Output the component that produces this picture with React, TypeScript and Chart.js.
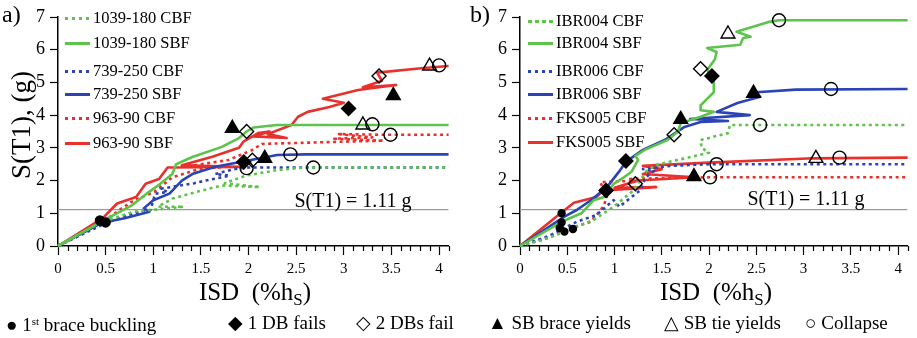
import React, { useEffect, useRef } from 'react';
import { Chart, registerables } from 'chart.js';
Chart.register(...registerables);

type P = [number, number];

const GREEN = '#5cc44a';
const BLUE = '#2b44b5';
const RED = '#e8302c';
const SERIF = '"Liberation Serif", "Times New Roman", serif';

// ---------- tick labels ----------
const X_TICKS = [0, 0.5, 1, 1.5, 2, 2.5, 3, 3.5, 4];
const X_TICK_LABELS = ['0', '0.5', '1', '1.5', '2', '2.5', '3', '3.5', '4'];
const Y_TICKS = [0, 1, 2, 3, 4, 5, 6, 7];
const Y_TICK_LABELS = ['0', '1', '2', '3', '4', '5', '6', '7'];
const S_T1_LINE: P[] = [[0, 1.11], [4.1, 1.11]];

// ---------- panel a series ----------
const A_1039_CBF: P[] = [[0, 0], [0.45, 0.72], [0.8, 1.05], [1.32, 1.2], [1.05, 1.2], [1.2, 1.45], [1.45, 1.65], [1.72, 1.85], [2.12, 1.8], [1.75, 1.92], [1.97, 2.15], [2.3, 2.32], [2.58, 2.4], [4.1, 2.4]];
const A_1039_SBF: P[] = [[0, 0], [0.49, 0.8], [0.78, 1.25], [0.93, 1.6], [1.06, 1.87], [1.2, 2.2], [1.24, 2.5], [1.41, 2.72], [1.72, 3.03], [1.9, 3.3], [1.98, 3.5], [2.05, 3.62], [2.3, 3.7], [4.1, 3.7]];
const A_739_CBF: P[] = [[0, 0], [0.5, 0.7], [0.8, 1.0], [0.97, 1.1], [1.02, 1.6], [1.15, 1.65], [1.08, 1.75], [1.43, 1.92], [1.55, 2.0], [1.8, 2.15], [1.65, 2.2], [1.85, 2.35], [2.0, 2.4], [4.1, 2.4]];
const A_739_SBF: P[] = [[0, 0], [0.47, 0.72], [0.7, 0.85], [0.96, 1.05], [0.9, 1.15], [1.0, 1.4], [1.17, 1.6], [1.3, 2.0], [1.41, 2.2], [1.65, 2.42], [1.97, 2.6], [2.3, 2.78], [2.6, 2.8], [4.1, 2.8]];
const A_963_CBF: P[] = [[0, 0], [0.5, 0.8], [0.67, 1.15], [0.8, 1.4], [1.01, 1.65], [1.2, 2.1], [1.48, 2.35], [1.7, 2.4], [1.4, 2.45], [1.79, 2.63], [2.03, 2.92], [2.14, 3.12], [2.5, 3.15], [3.42, 3.22], [2.9, 3.28], [3.3, 3.32], [2.95, 3.42], [3.4, 3.4], [4.1, 3.4]];
const A_963_SBF: P[] = [[0, 0], [0.47, 0.85], [0.62, 1.3], [0.82, 1.5], [0.92, 1.9], [1.06, 2.05], [1.15, 2.4], [1.9, 2.42], [1.3, 2.47], [1.62, 2.73], [1.9, 3.0], [1.95, 3.2], [2.1, 3.45], [2.22, 3.5], [2.05, 3.35], [2.4, 3.3], [2.2, 3.42], [2.45, 3.7], [2.52, 3.95], [2.62, 4.1], [2.85, 4.25], [3.0, 4.38], [2.78, 4.5], [3.15, 4.77], [3.55, 4.92], [3.2, 4.85], [3.4, 5.05], [3.35, 5.3], [3.84, 5.44], [4.1, 5.5]];

const A_BUCKLING: P[] = [[0.44, 0.78], [0.5, 0.72]];
const A_DB1: P[] = [[1.95, 2.57], [3.05, 4.2]];
const A_DB2: P[] = [[1.98, 3.5], [2.04, 2.62], [3.37, 5.2]];
const A_SB_BRACE: P[] = [[1.83, 3.6], [2.17, 2.68], [3.52, 4.6]];
const A_SB_TIE: P[] = [[3.2, 3.7], [3.9, 5.5]];
const A_COLLAPSE: P[] = [[1.98, 2.38], [2.44, 2.8], [2.68, 2.4], [3.3, 3.72], [3.49, 3.4], [4.0, 5.52]];

// ---------- panel b series ----------
const B_IBR004_CBF: P[] = [[0, 0], [0.23, 0.18], [0.44, 0.4], [0.78, 0.8], [0.99, 1.2], [1.2, 1.7], [1.34, 2.3], [1.44, 2.48], [2.0, 2.85], [1.92, 3.0], [1.91, 3.24], [2.2, 3.45], [2.22, 3.7], [4.1, 3.7]];
const B_IBR004_SBF: P[] = [[0, 0], [0.44, 0.74], [0.65, 1.0], [0.78, 1.4], [0.89, 1.5], [0.99, 1.9], [1.1, 2.1], [1.18, 2.27], [1.25, 2.63], [1.22, 2.75], [1.32, 2.94], [1.56, 3.24], [1.67, 3.49], [1.7, 3.75], [1.91, 3.95], [2.05, 4.1], [1.91, 4.15], [1.91, 4.3], [2.05, 4.7], [2.05, 5.08], [1.98, 5.38], [2.06, 5.7], [2.08, 5.93], [1.98, 6.05], [2.33, 6.15], [2.36, 6.36], [2.44, 6.4], [2.29, 6.55], [2.63, 6.85], [2.74, 6.9], [4.1, 6.9]];
const B_IBR006_CBF: P[] = [[0, 0], [0.3, 0.3], [0.6, 0.74], [0.81, 0.95], [0.99, 1.4], [1.05, 1.2], [1.27, 1.7], [1.33, 2.1], [1.42, 2.3], [1.3, 2.35], [1.6, 2.45], [2.0, 2.5], [4.1, 2.5]];
const B_IBR006_SBF: P[] = [[0, 0], [0.47, 0.9], [0.6, 1.1], [0.75, 1.4], [0.92, 1.8], [1.06, 2.32], [1.12, 2.57], [1.3, 2.94], [1.53, 3.24], [1.74, 3.64], [1.91, 3.79], [2.2, 3.82], [1.8, 3.88], [2.43, 4.0], [2.08, 4.1], [2.3, 4.37], [2.54, 4.56], [2.5, 4.7], [2.92, 4.78], [4.1, 4.8]];
const B_FKS005_CBF: P[] = [[0, 0], [0.3, 0.25], [0.57, 0.58], [0.75, 0.74], [0.88, 1.2], [0.92, 1.5], [0.85, 1.95], [1.25, 2.0], [1.15, 2.05], [1.6, 2.08], [2.0, 2.1], [4.1, 2.1]];
const B_FKS005_SBF: P[] = [[0, 0], [0.43, 1.0], [0.57, 1.32], [0.81, 1.5], [0.88, 1.7], [1.44, 1.8], [1.0, 1.78], [1.25, 2.0], [1.85, 2.1], [1.3, 2.2], [1.5, 2.35], [1.3, 2.45], [2.0, 2.55], [3.1, 2.68], [4.1, 2.7]];

const B_BUCKLING: P[] = [[0.44, 1.0], [0.44, 0.72], [0.42, 0.55], [0.47, 0.44], [0.56, 0.52]];
const B_DB1: P[] = [[0.91, 1.7], [1.12, 2.6], [2.03, 5.2]];
const B_DB2: P[] = [[1.22, 1.9], [1.63, 3.4], [1.91, 5.42]];
const B_SB_BRACE: P[] = [[1.84, 2.12], [1.7, 3.87], [2.47, 4.67]];
const B_SB_TIE: P[] = [[2.2, 6.48], [3.13, 2.68]];
const B_COLLAPSE: P[] = [[2.74, 6.9], [2.54, 3.7], [2.08, 2.5], [2.01, 2.1], [3.38, 2.7], [3.29, 4.8]];

const A_NAMES = ['1039-180 CBF', '1039-180 SBF', '739-250 CBF', '739-250 SBF', '963-90 CBF', '963-90 SBF'];
const B_NAMES = ['IBR004 CBF', 'IBR004 SBF', 'IBR006 CBF', 'IBR006 SBF', 'FKS005 CBF', 'FKS005 SBF'];
const COLORS = [GREEN, GREEN, BLUE, BLUE, RED, RED];
const DOTTED = [true, false, true, false, true, false];

const xy = (a: P[]) => a.map(([x, y]) => ({ x, y }));

function lineDs(data: P[], color: string, dotted: boolean) {
  return {
    type: 'scatter', data: xy(data), showLine: true, borderColor: color, borderWidth: 2.6,
    borderDash: dotted ? [3, 3.5] : [], pointRadius: 0, tension: 0, order: 2,
    borderJoinStyle: 'round', clip: 8,
  };
}
function markDs(data: P[], style: string, filled: boolean, r: number) {
  return {
    type: 'scatter', data: xy(data), showLine: false, pointStyle: style, pointRadius: r,
    pointBackgroundColor: filled ? '#000' : 'rgba(0,0,0,0)', pointBorderColor: '#000',
    pointBorderWidth: 1.4, order: 0, clip: false,
  };
}

const minorTicks = {
  id: 'minorTicks',
  afterDraw(chart: any) {
    const xs = chart.scales.x;
    const ctx = chart.ctx;
    const y0 = chart.chartArea.bottom;
    ctx.save();
    ctx.strokeStyle = '#000';
    ctx.lineWidth = 1.2;
    for (let i = 0; i <= 41; i++) {
      if (i % 5 === 0) continue;
      const px = Math.round(xs.getPixelForValue(i / 10)) + 0.5;
      ctx.beginPath();
      ctx.moveTo(px, y0);
      ctx.lineTo(px, y0 + 5);
      ctx.stroke();
    }
    ctx.restore();
  },
};

function makeConfig(series: P[][], marks: { b: P[]; d1: P[]; d2: P[]; sb: P[]; st: P[]; c: P[] }, yWidth: number, bucklingR: number) {
  const datasets: any[] = [
    markDs(marks.b, 'circle', true, bucklingR),
    markDs(marks.d1, 'rectRot', true, 7),
    markDs(marks.d2, 'rectRot', false, 7),
    markDs(marks.sb, 'triangle', true, 8),
    markDs(marks.st, 'triangle', false, 8),
    markDs(marks.c, 'circle', false, 6.5),
  ];
  series.forEach((s, i) => datasets.push(lineDs(s, COLORS[i], DOTTED[i])));
  datasets.push({ type: 'scatter', data: xy(S_T1_LINE), showLine: true, borderColor: '#9a9a9a', borderWidth: 1.3, pointRadius: 0, order: 3 });
  return {
    type: 'scatter',
    data: { datasets },
    options: {
      animation: false, responsive: false, devicePixelRatio: 1,
      layout: { padding: { top: 17, right: 6, left: 0, bottom: 0 } },
      plugins: { legend: { display: false }, tooltip: { enabled: false } },
      scales: {
        x: {
          type: 'linear', min: 0, max: 4.1,
          afterBuildTicks: (s: any) => { s.ticks = X_TICKS.map((v) => ({ value: v })); },
          afterFit: (s: any) => { s.height = 92; },
          ticks: { callback: (_v: any, i: number) => X_TICK_LABELS[i], color: '#000', font: { family: SERIF, size: 15 }, padding: 5, maxRotation: 0, autoSkip: false },
          grid: { drawOnChartArea: false, tickLength: 9, tickColor: '#000', tickWidth: 1.2 },
          border: { color: '#000', width: 1.5 },
        },
        y: {
          type: 'linear', min: 0, max: 7,
          afterBuildTicks: (s: any) => { s.ticks = Y_TICKS.map((v) => ({ value: v })); },
          afterFit: (s: any) => { s.width = yWidth; },
          ticks: { callback: (_v: any, i: number) => Y_TICK_LABELS[i], color: '#000', font: { family: SERIF, size: 18 }, padding: 5, autoSkip: false },
          grid: { drawOnChartArea: false, tickLength: 8, tickColor: '#000', tickWidth: 1.2 },
          border: { color: '#000', width: 1.5 },
        },
      },
    },
    plugins: [minorTicks],
  };
}

function Panel({ left, width, yWidth, series, marks, bucklingR }: any) {
  const ref = useRef<HTMLCanvasElement>(null);
  useEffect(() => {
    const chart = new Chart(ref.current as HTMLCanvasElement, makeConfig(series, marks, yWidth, bucklingR) as any);
    return () => chart.destroy();
  }, []);
  return (
    <canvas ref={ref} width={width} height={338}
      style={{ position: 'absolute', left, top: 0, width, height: 338, display: 'block' }} />
  );
}

function InLegend({ left, tops, names }: { left: number; tops: number[]; names: string[] }) {
  return (
    <>
      {names.map((n, i) => (
        <div key={n} style={{ position: 'absolute', left, top: tops[i] - 11, height: 22, display: 'flex', alignItems: 'center', whiteSpace: 'nowrap' }}>
          <div style={{
            width: 25, height: 3, marginRight: 3,
            background: DOTTED[i]
              ? `repeating-linear-gradient(to right, ${COLORS[i]} 0 3.5px, transparent 3.5px 7px)`
              : COLORS[i],
          }} />
          <span style={{ fontSize: 16.5, lineHeight: '22px' }}>{n}</span>
        </div>
      ))}
    </>
  );
}

const abs = (l: number, t: number, extra: any = {}) => ({ position: 'absolute' as const, left: l, top: t, whiteSpace: 'nowrap' as const, ...extra });

export default function App() {
  const aMarks = { b: A_BUCKLING, d1: A_DB1, d2: A_DB2, sb: A_SB_BRACE, st: A_SB_TIE, c: A_COLLAPSE };
  const bMarks = { b: B_BUCKLING, d1: B_DB1, d2: B_DB2, sb: B_SB_BRACE, st: B_SB_TIE, c: B_COLLAPSE };
  return (
    <div style={{ position: 'fixed', left: 0, top: 0, width: 917, height: 338, background: '#fff', fontFamily: SERIF, color: '#000', overflow: 'hidden' }}>
      <Panel left={0} width={458} yWidth={58} series={[A_1039_CBF, A_1039_SBF, A_739_CBF, A_739_SBF, A_963_CBF, A_963_SBF]} marks={aMarks} bucklingR={4.5} />
      <Panel left={458} width={459} yWidth={62} series={[B_IBR004_CBF, B_IBR004_SBF, B_IBR006_CBF, B_IBR006_SBF, B_FKS005_CBF, B_FKS005_SBF]} marks={bMarks} bucklingR={3.5} />

      <div style={abs(2, 0, { fontSize: 24, lineHeight: '28px' })}>a)</div>
      <div style={abs(470, 0, { fontSize: 24, lineHeight: '28px' })}>b)</div>

      <div style={abs(21, 125, { fontSize: 27, transform: 'translate(-50%, -50%) rotate(-90deg)', lineHeight: '30px' })}>S(T1), (g)</div>

      <div style={abs(255, 296, { fontSize: 25, transform: 'translate(-50%, -50%)', lineHeight: '30px' })}>ISD&nbsp;&nbsp;(%h<sub style={{ fontSize: 17, verticalAlign: '-5px' }}>S</sub>)</div>
      <div style={abs(716, 296, { fontSize: 25, transform: 'translate(-50%, -50%)', lineHeight: '30px' })}>ISD&nbsp;&nbsp;(%h<sub style={{ fontSize: 17, verticalAlign: '-5px' }}>S</sub>)</div>

      <div style={abs(353, 200, { fontSize: 20, transform: 'translate(-50%, -50%)', lineHeight: '24px' })}>S(T1) = 1.11 g</div>
      <div style={abs(806, 198, { fontSize: 20, transform: 'translate(-50%, -50%)', lineHeight: '24px' })}>S(T1) = 1.11 g</div>

      <InLegend left={65} tops={[18, 43, 71, 94, 118, 143]} names={A_NAMES} />
      <InLegend left={528} tops={[21, 43, 71, 94, 118, 142]} names={B_NAMES} />

      <div style={abs(6, 323, { fontSize: 19, transform: 'translateY(-50%)', lineHeight: '24px' })}>● 1<sup style={{ fontSize: 11, verticalAlign: '6px' }}>st</sup> brace buckling</div>
      <div style={abs(228, 323, { fontSize: 19, transform: 'translateY(-50%)', lineHeight: '24px' })}>◆ 1 DB fails</div>
      <div style={abs(356, 323, { fontSize: 19, transform: 'translateY(-50%)', lineHeight: '24px' })}>◇ 2 DBs fail</div>
      <div style={abs(488, 323, { fontSize: 19, transform: 'translateY(-50%)', lineHeight: '24px' })}>▲ SB brace yields</div>
      <div style={abs(664, 323, { fontSize: 19, transform: 'translateY(-50%)', lineHeight: '24px' })}>△ SB tie yields</div>
      <div style={abs(805, 323, { fontSize: 19, transform: 'translateY(-50%)', lineHeight: '24px' })}>○ Collapse</div>
    </div>
  );
}
